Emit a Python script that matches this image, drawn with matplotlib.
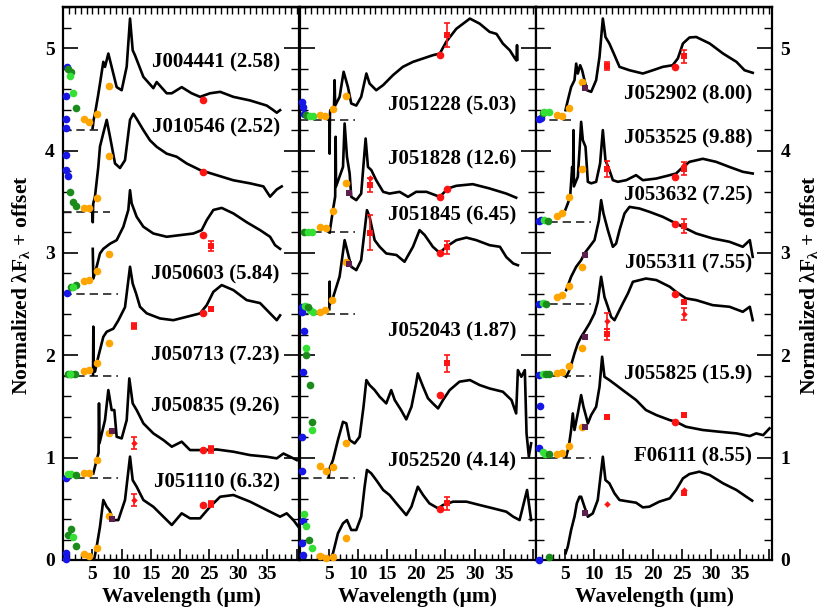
import matplotlib
matplotlib.use('Agg')
import matplotlib.pyplot as plt
import numpy as np

plt.rcParams['font.family'] = ['Liberation Serif', 'DejaVu Serif']
plt.rcParams['font.weight'] = 'bold'
plt.rcParams['mathtext.fontset'] = 'custom'
plt.rcParams['mathtext.rm'] = 'Liberation Serif:bold'
plt.rcParams['mathtext.it'] = 'Liberation Serif:bold'
plt.rcParams['mathtext.bf'] = 'Liberation Serif:bold'

# ---------------- LEFT PANEL ----------------
J004441_wl = [5.03, 5.2, 5.43, 6.0, 6.29, 6.86, 7.15, 7.72, 8.29, 9.15, 10.01, 10.87, 11.44, 11.9, 12.3, 13.73, 15.44, 16.01, 17.73, 18.6, 20.3, 22.0, 23.45, 25.16, 26.9, 29.16, 32.02, 34.88, 36.02, 36.6, 37.17]
J004441_fx = [4.22, 4.30, 4.36, 4.55, 4.655, 4.867, 4.818, 4.948, 4.818, 4.62, 4.59, 4.82, 5.29, 4.98, 4.93, 4.72, 4.61, 4.67, 4.56, 4.56, 4.62, 4.56, 4.525, 4.56, 4.574, 4.525, 4.49, 4.44, 4.395, 4.37, 4.395]
J004441_pwl = [0.57, 0.40, 0.40, 0.40, 0.86, 1.26, 2.18, 1.15, 1.6, 3.55, 4.46, 5.72, 7.89, 23.9]
J004441_pfx = [4.818, 4.53, 4.31, 4.216, 4.80, 4.77, 4.42, 4.727, 4.56, 4.31, 4.28, 4.36, 4.63, 4.49]
J004441_band = ['opt', 'opt', 'opt', 'opt', '2mass', '2mass', '2mass', 'irsf', 'irsf', 'irac', 'irac', 'irac', 'irac', 'mips']
J004441_pe = [0] * 14

J010546_wl = [5.0, 5.05, 5.12, 5.43, 6.0, 6.29, 6.86, 7.44, 8.01, 8.87, 9.72, 10.58, 11.44, 12.01, 12.58, 13.73, 14.87, 16.01, 17.73, 19.44, 21.16, 23.45, 26.3, 29.16, 32.02, 34.31, 35.45, 36.6, 37.45]
J010546_fx = [3.42, 3.30, 3.48, 3.55, 3.84, 4.04, 4.17, 4.30, 4.135, 3.874, 3.83, 3.906, 4.30, 4.36, 4.31, 4.20, 4.10, 4.037, 3.97, 3.94, 3.874, 3.81, 3.76, 3.71, 3.68, 3.65, 3.55, 3.62, 3.65]
J010546_pwl = [0.46, 0.40, 0.75, 1.15, 1.6, 2.18, 3.55, 4.46, 5.72, 7.89, 23.9]
J010546_pfx = [3.955, 3.815, 3.75, 3.60, 3.50, 3.46, 3.435, 3.435, 3.54, 3.945, 3.79]
J010546_band = ['opt', 'opt', 'opt', '2mass', '2mass', '2mass', 'irac', 'irac', 'irac', 'irac', 'mips']
J010546_pe = [0] * 11

J050603_wl = [5.05, 5.15, 5.72, 6.29, 6.86, 8.01, 9.15, 10.3, 11.15, 11.44, 11.72, 12.58, 13.73, 15.44, 17.73, 20.0, 22.3, 23.73, 24.59, 25.73, 27.16, 29.16, 31.45, 33.74, 35.45, 36.31, 37.17]
J050603_fx = [3.04, 2.75, 2.865, 2.995, 3.04, 3.09, 3.125, 3.256, 3.42, 3.613, 3.485, 3.353, 3.256, 3.19, 3.158, 3.174, 3.19, 3.223, 3.32, 3.42, 3.44, 3.386, 3.30, 3.223, 3.158, 3.076, 3.04]
J050603_pwl = [0.57, 1.26, 2.18, 1.6, 3.55, 4.46, 5.72, 7.89, 23.9, 25.3]
J050603_pfx = [2.61, 2.67, 2.69, 2.663, 2.725, 2.74, 2.826, 2.99, 3.18, 3.066]
J050603_band = ['opt', '2mass', '2mass', 'irsf', 'irac', 'irac', 'irac', 'irac', 'mips', 'iras']
J050603_pe = [0, 0, 0, 0, 0, 0, 0, 0, 0, 0.05]

J050713_wl = [5.1, 5.15, 5.2, 5.43, 6.0, 6.86, 7.44, 8.58, 9.43, 10.58, 11.44, 11.9, 12.5, 13.15, 14.3, 16.58, 18.87, 21.16, 23.45, 24.59, 25.73, 27.16, 29.16, 31.45, 33.74, 35.45, 36.6, 37.17]
J050713_fx = [1.81, 2.28, 1.84, 1.84, 1.986, 2.18, 2.23, 2.26, 2.34, 2.47, 2.865, 2.70, 2.60, 2.474, 2.41, 2.36, 2.343, 2.376, 2.409, 2.49, 2.62, 2.686, 2.637, 2.539, 2.51, 2.41, 2.343, 2.39]
J050713_pwl = [0.86, 1.26, 2.0, 1.15, 3.55, 4.46, 5.72, 7.89, 23.9, 25.3, 12.18]
J050713_pfx = [1.816, 1.816, 1.816, 1.816, 1.846, 1.855, 1.92, 2.12, 2.409, 2.448, 2.285]
J050713_band = ['2mass', '2mass', '2mass', 'irsf', 'irac', 'irac', 'irac', 'irac', 'mips', 'iras', 'iras']
J050713_pe = [0, 0, 0, 0, 0, 0, 0, 0, 0, 0.02, 0.03]

J050835_wl = [5.15, 5.72, 6.05, 6.12, 6.2, 7.15, 7.72, 8.29, 8.75, 9.15, 10.01, 10.87, 11.32, 11.9, 12.58, 13.73, 15.44, 17.16, 18.6, 20.3, 21.73, 24.02, 26.3, 29.16, 32.02, 34.88, 36.6, 37.74, 38.88, 40.03]
J050835_fx = [0.846, 0.976, 1.05, 1.53, 1.14, 1.367, 1.66, 1.465, 1.465, 1.204, 1.188, 1.367, 1.774, 1.53, 1.465, 1.335, 1.237, 1.172, 1.107, 1.156, 1.074, 1.074, 1.08, 1.058, 1.025, 1.009, 0.993, 1.04, 1.009, 0.976]
J050835_pwl = [0.40, 0.86, 1.26, 2.18, 3.55, 4.46, 5.72, 7.89, 8.29, 23.9, 25.3, 12.18]
J050835_pfx = [0.804, 0.84, 0.84, 0.83, 0.853, 0.846, 0.976, 1.243, 1.263, 1.074, 1.08, 1.14]
J050835_band = ['opt', 'irsf', 'irsf', '2mass', 'irac', 'irac', 'irac', 'irac', 'akari', 'mips', 'iras', 'wise']
J050835_pe = [0, 0, 0, 0, 0, 0, 0, 0, 0, 0, 0.03, 0.06]

J051110_wl = [5.32, 5.72, 6.29, 6.86, 7.44, 7.89, 8.58, 9.43, 10.58, 11.44, 11.9, 12.58, 13.73, 15.44, 17.16, 18.6, 20.3, 21.73, 23.45, 25.16, 26.9, 29.16, 32.02, 34.88, 37.17, 38.31, 39.45, 40.31]
J051110_fx = [0.016, 0.13, 0.325, 0.586, 0.52, 0.488, 0.39, 0.39, 0.586, 1.01, 0.78, 0.716, 0.586, 0.52, 0.423, 0.342, 0.456, 0.407, 0.407, 0.52, 0.618, 0.635, 0.57, 0.488, 0.423, 0.456, 0.39, 0.325]
J051110_pwl = [0.40, 0.40, 0.75, 1.26, 2.18, 1.6, 3.55, 4.46, 5.72, 7.89, 8.29, 23.9, 25.3, 12.18]
J051110_pfx = [0.065, 0.006, 0.244, 0.30, 0.137, 0.228, 0.058, 0.039, 0.114, 0.43, 0.40, 0.537, 0.547, 0.586]
J051110_band = ['opt', 'opt', '2mass', '2mass', '2mass', 'irsf', 'irac', 'irac', 'irac', 'irac', 'akari', 'mips', 'iras', 'wise']
J051110_pe = [0] * 12 + [0.03, 0.06]

# ---------------- MIDDLE PANEL ----------------
J051228_wl = [5.1, 5.15, 5.2, 5.26, 5.9, 6.0, 6.1, 6.86, 7.55, 8.29, 8.86, 9.72, 10.56, 11.45, 12.0, 13.14, 14.33, 16.01, 17.7, 19.44, 21.17, 22.85, 24.04, 25.13, 26.87, 29.2, 30.88, 32.57, 33.76, 34.85, 36.04, 36.93, 37.2, 37.28, 37.35]
J051228_fx = [4.30, 3.97, 4.35, 4.395, 4.42, 4.688, 4.44, 4.525, 4.77, 4.62, 4.46, 4.44, 4.525, 4.753, 4.655, 4.59, 4.64, 4.737, 4.818, 4.867, 4.90, 4.932, 4.948, 5.062, 5.19, 5.29, 5.24, 5.16, 5.14, 5.046, 4.98, 4.90, 4.88, 5.03, 4.89]
J051228_pwl = [0.46, 0.57, 0.69, 1.14, 1.72, 2.29, 3.43, 4.29, 5.72, 7.89, 24.0, 25.27]
J051228_pfx = [4.476, 4.43, 4.36, 4.35, 4.336, 4.336, 4.346, 4.336, 4.41, 4.535, 4.932, 5.127]
J051228_band = ['opt', 'opt', 'opt', '2mass', 'irsf', 'irsf', 'irac', 'irac', 'irac', 'irac', 'mips', 'iras']
J051228_pe = [0] * 11 + [0.115]

J051828_wl = [5.15, 5.72, 6.1, 6.18, 6.25, 7.44, 7.72, 8.12, 8.58, 8.86, 9.72, 10.56, 11.32, 11.72, 12.29, 13.14, 14.33, 15.42, 17.15, 18.59, 19.98, 21.76, 24.04, 25.43, 26.87, 29.69, 32.57, 35.44, 37.13]
J051828_fx = [3.20, 3.42, 3.55, 4.135, 3.65, 3.84, 4.265, 3.94, 3.776, 3.548, 3.516, 3.58, 4.118, 3.84, 3.81, 3.71, 3.597, 3.58, 3.597, 3.548, 3.597, 3.597, 3.548, 3.63, 3.656, 3.672, 3.63, 3.58, 3.54]
J051828_pwl = [0.69, 1.43, 2.17, 3.55, 4.46, 5.72, 7.89, 8.41, 24.0, 25.35, 12.0, 12.0]
J051828_pfx = [3.20, 3.20, 3.20, 3.255, 3.246, 3.41, 3.685, 3.587, 3.542, 3.62, 3.662, 3.737]
J051828_band = ['2mass', 'irsf', 'irsf', 'irac', 'irac', 'irac', 'irac', 'akari', 'mips', 'mips', 'iras', 'wise']
J051828_pe = [0] * 10 + [0.07, 0]

J051845_wl = [5.1, 5.15, 5.2, 5.6, 6.2, 6.86, 7.3, 7.72, 8.29, 8.86, 9.72, 10.56, 11.55, 12.0, 12.87, 13.73, 14.86, 16.6, 17.99, 19.44, 20.57, 21.46, 22.85, 24.04, 25.13, 26.87, 28.6, 30.29, 32.57, 34.35, 35.44, 36.63, 37.43]
J051845_fx = [2.45, 2.72, 2.50, 2.54, 2.65, 2.77, 2.95, 3.125, 2.995, 2.865, 2.832, 2.93, 3.418, 3.353, 3.125, 3.06, 2.995, 2.98, 2.914, 3.06, 3.223, 3.174, 3.06, 3.0, 3.06, 3.125, 3.15, 3.125, 3.076, 3.06, 2.96, 2.897, 2.88]
J051845_pwl = [0.46, 0.46, 0.86, 1.72, 2.29, 1.43, 3.43, 4.29, 5.6, 7.89, 8.41, 24.0, 25.27, 12.0]
J051845_pfx = [2.474, 2.425, 2.48, 2.44, 2.425, 2.47, 2.425, 2.44, 2.539, 2.907, 2.89, 3.0, 3.054, 3.197]
J051845_band = ['opt', 'opt', 'irsf', 'irsf', 'irsf', '2mass', 'irac', 'irac', 'irac', 'irac', 'akari', 'mips', 'iras', 'iras']
J051845_pe = [0] * 12 + [0.06, 0.17]

J052043_wl = [5.0, 5.15, 5.72, 6.57, 7.44, 8.01, 8.58, 9.44, 10.29, 10.96, 11.45, 12.0, 12.87, 13.73, 14.86, 15.71, 16.31, 17.4, 18.29, 19.18, 19.98, 20.27, 21.17, 22.01, 22.85, 23.74, 24.59, 25.73, 27.41, 29.2, 30.88, 32.57, 34.85, 36.33, 37.13, 37.43, 38.02, 38.62, 38.91, 39.31, 39.7]
J052043_fx = [0.81, 0.895, 0.977, 1.172, 1.35, 1.335, 1.172, 1.139, 1.204, 1.497, 1.758, 1.709, 1.66, 1.595, 1.53, 1.66, 1.563, 1.465, 1.374, 1.497, 1.725, 1.823, 1.693, 1.58, 1.53, 1.481, 1.563, 1.66, 1.742, 1.758, 1.709, 1.676, 1.644, 1.563, 1.432, 1.855, 1.79, 1.855, 1.237, 1.01, 1.14]
J052043_pwl = [0.69, 0.57, 0.46, 0.46, 1.14, 1.72, 2.17, 1.03, 2.17, 3.55, 4.46, 5.72, 7.89, 24.0, 25.35]
J052043_pfx = [2.24, 1.84, 1.198, 0.872, 2.0, 1.709, 1.35, 2.067, 1.27, 0.918, 0.872, 0.91, 1.14, 1.61, 1.92]
J052043_band = ['opt', 'opt', 'opt', 'opt', '2mass', '2mass', '2mass', 'irsf', 'irsf', 'irac', 'irac', 'irac', 'irac', 'mips', 'iras']
J052043_pe = [0] * 14 + [0.08]

J052520_wl = [5.15, 5.72, 6.57, 7.44, 8.12, 8.86, 9.72, 10.56, 11.15, 11.55, 12.29, 13.14, 14.33, 15.42, 16.6, 18.29, 19.18, 20.27, 21.17, 22.26, 23.74, 24.59, 26.32, 28.6, 30.88, 33.16, 35.44, 36.63, 37.72, 39.0, 39.7]
J052520_fx = [0.0, 0.065, 0.26, 0.358, 0.39, 0.293, 0.293, 0.423, 0.716, 0.88, 0.846, 0.781, 0.684, 0.635, 0.553, 0.439, 0.521, 0.716, 0.635, 0.553, 0.505, 0.537, 0.57, 0.57, 0.537, 0.505, 0.472, 0.423, 0.39, 0.684, 0.39]
J052520_pwl = [0.57, 0.46, 0.57, 0.69, 1.14, 2.17, 1.6, 3.55, 4.46, 5.72, 7.89, 24.0, 25.35]
J052520_pfx = [0.384, 0.17, 0.049, 0.446, 0.332, 0.114, 0.195, 0.039, 0.023, 0.033, 0.218, 0.495, 0.553]
J052520_band = ['opt', 'opt', 'opt', 'irsf', 'irsf', 'irsf', '2mass', 'irac', 'irac', 'irac', 'irac', 'mips', 'iras']
J052520_pe = [0] * 12 + [0.06]

# ---------------- RIGHT PANEL ----------------
J052902_wl = [5.06, 5.45, 6.02, 6.6, 6.89, 7.17, 7.57, 7.91, 8.31, 8.71, 9.46, 10.31, 10.89, 11.46, 11.91, 12.58, 13.46, 14.32, 16.03, 18.32, 20.04, 21.73, 23.43, 24.32, 25.19, 26.31, 27.47, 29.79, 32.08, 34.37, 35.76, 37.16]
J052902_fx = [4.395, 4.49, 4.62, 4.688, 4.85, 4.753, 4.834, 4.785, 4.688, 4.59, 4.574, 4.688, 4.916, 5.29, 5.11, 5.046, 4.932, 4.818, 4.785, 4.753, 4.785, 4.818, 4.834, 4.9, 5.046, 5.105, 5.11, 5.046, 4.948, 4.867, 4.785, 4.76]
J052902_pwl = [0.6, 0.88, 1.28, 1.45, 2.2, 3.57, 4.48, 5.74, 7.91, 8.43, 23.87, 25.3, 12.15]
J052902_pfx = [4.304, 4.32, 4.37, 4.38, 4.38, 4.346, 4.34, 4.42, 4.672, 4.607, 4.818, 4.92, 4.828]
J052902_band = ['opt', 'opt', '2mass', 'irsf', 'irsf', 'irac', 'irac', 'irac', 'irac', 'akari', 'mips', 'iras', 'iras']
J052902_pe = [0] * 11 + [0.06, 0.04]

J053525_wl = [5.06, 5.45, 5.85, 6.2, 6.35, 6.43, 6.5, 7.17, 7.46, 7.74, 8.03, 8.49, 8.89, 9.46, 10.31, 10.99, 11.46, 11.91, 12.58, 13.18, 14.03, 15.47, 17.16, 18.32, 20.64, 22.93, 24.02, 25.19, 26.31, 28.6, 30.89, 33.18, 35.46, 37.16]
J053525_fx = [3.425, 3.483, 3.548, 3.84, 3.70, 4.2, 3.65, 3.744, 4.004, 4.281, 4.102, 4.037, 3.695, 3.68, 3.695, 3.874, 4.2, 3.906, 3.81, 3.711, 3.695, 3.711, 3.76, 3.711, 3.727, 3.76, 3.776, 3.84, 3.89, 3.92, 3.89, 3.84, 3.793, 3.776]
J053525_pwl = [0.6, 0.88, 1.45, 2.02, 3.57, 4.48, 5.74, 7.91, 23.87, 25.3, 25.3, 12.15]
J053525_pfx = [3.314, 3.32, 3.32, 3.314, 3.36, 3.386, 3.548, 3.825, 3.744, 3.825, 3.86, 3.818]
J053525_band = ['opt', 'opt', 'irsf', '2mass', 'irac', 'irac', 'irac', 'irac', 'mips', 'iras', 'wise', 'iras']
J053525_pe = [0] * 9 + [0.06, 0, 0.08]

J053632_wl = [5.17, 6.02, 6.89, 7.74, 8.31, 9.17, 10.03, 10.79, 11.17, 11.57, 12.32, 13.18, 13.74, 14.32, 15.18, 16.03, 17.75, 19.44, 21.73, 24.02, 25.71, 27.47, 30.29, 33.18, 35.46, 36.66, 37.16]
J053632_fx = [2.637, 2.767, 2.865, 2.93, 2.995, 3.06, 3.125, 3.32, 3.516, 3.386, 3.223, 3.06, 3.092, 3.223, 3.386, 3.45, 3.434, 3.402, 3.353, 3.288, 3.239, 3.19, 3.142, 3.109, 3.06, 3.125, 2.962]
J053632_pwl = [0.6, 1.28, 1.74, 3.57, 4.48, 5.74, 7.91, 8.43, 23.87, 25.3]
J053632_pfx = [2.5, 2.51, 2.506, 2.571, 2.588, 2.676, 2.865, 2.978, 3.28, 3.265]
J053632_band = ['opt', 'irsf', '2mass', 'irac', 'irac', 'irac', 'irac', 'akari', 'mips', 'iras']
J053632_pe = [0] * 9 + [0.07]

J055311_wl = [5.17, 5.62, 6.02, 6.6, 7.17, 7.74, 8.31, 9.17, 10.03, 10.59, 11.17, 11.74, 12.32, 12.88, 13.46, 14.03, 14.87, 15.76, 16.61, 18.85, 20.64, 22.93, 24.02, 25.71, 27.47, 30.29, 33.18, 35.46, 36.66, 37.16]
J055311_fx = [1.79, 1.84, 1.904, 2.018, 2.116, 2.18, 2.23, 2.311, 2.409, 2.523, 2.767, 2.57, 2.474, 2.376, 2.343, 2.409, 2.506, 2.604, 2.718, 2.75, 2.735, 2.67, 2.62, 2.556, 2.539, 2.49, 2.474, 2.425, 2.474, 2.343]
J055311_pwl = [0.6, 1.17, 1.74, 2.2, 3.57, 4.48, 5.74, 7.91, 8.43, 23.87, 25.3, 25.3, 12.15, 12.15]
J055311_pfx = [1.807, 1.816, 1.816, 1.816, 1.83, 1.84, 1.894, 2.067, 2.174, 2.598, 2.523, 2.40, 2.337, 2.204]
J055311_band = ['opt', 'irsf', '2mass', '2mass', 'irac', 'irac', 'irac', 'irac', 'akari', 'mips', 'iras', 'wise', 'wise', 'iras']
J055311_pe = [0] * 10 + [0, 0.06, 0.08, 0.05]

J055825_wl = [5.17, 5.62, 6.02, 6.31, 6.6, 7.17, 7.74, 8.14, 8.6, 8.89, 9.46, 10.31, 10.89, 11.34, 11.74, 12.58, 13.74, 14.87, 16.03, 17.16, 18.85, 20.64, 22.93, 24.02, 25.71, 28.6, 31.48, 34.37, 36.66, 37.75, 38.95, 40.04]
J055825_fx = [1.009, 1.107, 1.27, 1.432, 1.27, 1.432, 1.611, 1.497, 1.4, 1.335, 1.416, 1.497, 1.693, 1.986, 1.79, 1.758, 1.709, 1.66, 1.611, 1.563, 1.465, 1.416, 1.367, 1.35, 1.302, 1.27, 1.253, 1.237, 1.211, 1.237, 1.22, 1.286]
J055825_pwl = [0.71, 0.6, 1.17, 1.62, 2.2, 3.57, 4.48, 5.74, 7.91, 8.43, 23.87, 25.3, 12.15]
J055825_pfx = [1.504, 1.09, 1.058, 1.04, 1.035, 1.035, 1.048, 1.113, 1.302, 1.296, 1.35, 1.416, 1.393]
J055825_band = ['opt', 'opt', 'irsf', 'irsf', '2mass', 'irac', 'irac', 'irac', 'irac', 'akari', 'mips', 'iras', 'iras']
J055825_pe = [0] * 13

F06111_wl = [5.06, 5.45, 6.02, 6.6, 7.0, 7.46, 7.74, 8.31, 8.89, 9.74, 10.59, 10.99, 11.46, 11.91, 12.58, 13.46, 14.32, 16.03, 17.16, 18.32, 19.44, 21.14, 22.93, 24.02, 25.19, 26.31, 28.0, 29.79, 32.08, 34.37, 36.06, 37.06]
F06111_fx = [0.065, 0.13, 0.293, 0.423, 0.553, 0.618, 0.618, 0.52, 0.423, 0.456, 0.586, 0.781, 1.009, 0.781, 0.749, 0.651, 0.586, 0.57, 0.56, 0.514, 0.521, 0.57, 0.602, 0.684, 0.797, 0.84, 0.863, 0.83, 0.749, 0.684, 0.618, 0.58]
F06111_pwl = [0.6, 2.2, 8.43, 25.3, 25.3, 12.15]
F06111_pfx = [0.0, 0.033, 0.456, 0.658, 0.684, 0.547]
F06111_band = ['opt', '2mass', 'akari', 'iras', 'wise', 'wise']
F06111_pe = [0] * 6

# labels, offsets (dashed baseline level), dashed-line end wavelength
left_names = ['J004441 (2.58)', 'J010546 (2.52)', 'J050603 (5.84)', 'J050713 (7.23)', 'J050835 (9.26)', 'J051110 (6.32)']
left_offsets = [4.2, 3.4, 2.6, 1.8, 0.8, 0.0]
left_dash_end = [7.15, 8.0, 9.43, 9.43, 9.43, 0.0]
mid_names = ['J051228 (5.03)', 'J051828 (12.6)', 'J051845 (6.45)', 'J052043 (1.87)', 'J052520 (4.14)']
mid_offsets = [4.3, 3.2, 2.4, 0.8, 0.0]
mid_dash_end = [9.43, 9.43, 9.43, 9.43, 0.0]
right_names = ['J052902 (8.00)', 'J053525 (9.88)', 'J053632 (7.25)', 'J055311 (7.55)', 'J055825 (15.9)', 'F06111 (8.55)']
right_offsets = [4.3, 3.3, 2.5, 1.8, 1.0, 0.0]
right_dash_end = [6.6, 9.46, 9.46, 9.46, 9.46, 0.0]

# label placement (layout)
left_label_y = [4.86, 4.23, 2.79, 2.0, 1.50, 0.76]
mid_label_y = [4.44, 3.91, 3.37, 2.23, 0.96]
right_label_y = [4.55, 4.12, 3.565, 2.90, 1.81, 1.01]

STYLE = {
    'opt': dict(marker='o', color='#1616e8', ms=5.5),
    '2mass': dict(marker='o', color='#1b8c1b', ms=5.5),
    'irsf': dict(marker='o', color='#35e035', ms=5.5),
    'irac': dict(marker='o', color='#ffa500', ms=5.5),
    'akari': dict(marker='s', color='#5e1f4e', ms=4.5),
    'mips': dict(marker='o', color='#ff1414', ms=5.5),
    'iras': dict(marker='s', color='#ff1414', ms=4.3),
    'wise': dict(marker='D', color='#ff1414', ms=3.3),
}

def spec(name):
    g = globals()
    return (g[name + '_wl'], g[name + '_fx'], g[name + '_pwl'], g[name + '_pfx'],
            g[name + '_band'], g[name + '_pe'])

panels = [
    (['J004441', 'J010546', 'J050603', 'J050713', 'J050835', 'J051110'], left_names, left_offsets, left_dash_end, left_label_y),
    (['J051228', 'J051828', 'J051845', 'J052043', 'J052520'], mid_names, mid_offsets, mid_dash_end, mid_label_y),
    (['J052902', 'J053525', 'J053632', 'J055311', 'J055825', 'F06111'], right_names, right_offsets, right_dash_end, right_label_y),
]

W, H = 820.0, 614.0
fig = plt.figure(figsize=(W / 100, H / 100), dpi=100)
lefts = [63.3, 299.6, 536.0]
pw = 236.2
y_bot, y_top = 560.0, 7.3

for pi, (keys, names, offs, dends, laby) in enumerate(panels):
    ax = fig.add_axes([lefts[pi] / W, (H - y_bot) / H, pw / W, (y_bot - y_top) / H])
    ax.set_xlim(0, 40.5)
    ax.set_ylim(0, 5.4)
    for k, nm, off, de, ly in zip(keys, names, offs, dends, laby):
        wl, fx, pwl, pfx, band, pe = spec(k)
        assert len(wl) == len(fx), k
        assert len(pwl) == len(pfx) == len(band) == len(pe), k
        ax.plot(wl, fx, color='black', lw=1.9, zorder=3, solid_joinstyle='round')
        if de > 0:
            ax.plot([0, de], [off, off], color='#222222', lw=1.2, dashes=(5, 3), zorder=2)
        for x, y, b, e in zip(pwl, pfx, band, pe):
            st = STYLE[b]
            if e > 0:
                ax.errorbar([x], [y], yerr=[e], fmt='none', ecolor=st['color'], elinewidth=1.2,
                            capsize=2.5, capthick=1.2, zorder=4, clip_on=False)
            ax.plot([x], [y], linestyle='none', marker=st['marker'], color=st['color'],
                    markersize=st['ms'], markeredgewidth=0, zorder=5, clip_on=False)
        ax.text(37.1, ly, nm, ha='right', va='center', fontsize=15, fontweight='bold', zorder=6)

    ax.set_xticks([5, 10, 15, 20, 25, 30, 35, 40], ['5', '10', '15', '20', '25', '30', '35', ''])
    ax.set_xticks(np.arange(1, 41, 1), minor=True)
    ax.set_yticks([0, 1, 2, 3, 4, 5], ['0', '1', '2', '3', '4', '5'])
    ax.set_yticks(np.arange(0, 5.41, 0.2), minor=True)
    ax.tick_params(axis='x', which='major', direction='in', length=8, width=1.2, top=False,
                   labelsize=14, pad=4)
    ax.tick_params(axis='x', which='minor', direction='in', length=4, width=1.0, top=False)
    ax.tick_params(axis='y', which='major', direction='in', length=11, width=1.2, left=True, right=True,
                   labelsize=14, pad=6, labelleft=(pi == 0), labelright=(pi == 2))
    ax.tick_params(axis='y', which='minor', direction='in', length=5.5, width=1.0, left=True, right=True)
    for lab in ax.get_xticklabels() + ax.get_yticklabels():
        lab.set_fontweight('bold')
    for sp in ax.spines.values():
        sp.set_linewidth(1.6)
    sec = ax.secondary_xaxis('top')
    sec.set_xticks(np.arange(1, 41, 1))
    sec.tick_params(direction='in', length=5, width=1.0, labeltop=False)
    sec.spines['top'].set_linewidth(1.6)

    fig.text((lefts[pi] + pw / 2) / W, 1 - 597 / H, 'Wavelength (μm)', ha='center', va='center',
             fontsize=15.5, fontweight='bold')

ylab = r'Normalized $\lambda\mathrm{F}_{\lambda}$ + offset'
fig.text(21.5 / W, 1 - 285 / H, ylab, rotation=90, ha='center', va='center', fontsize=15.5, fontweight='bold')
fig.text(809 / W, 1 - 285 / H, ylab, rotation=90, ha='center', va='center', fontsize=15.5, fontweight='bold')

fig.savefig('out.png', dpi=100)
